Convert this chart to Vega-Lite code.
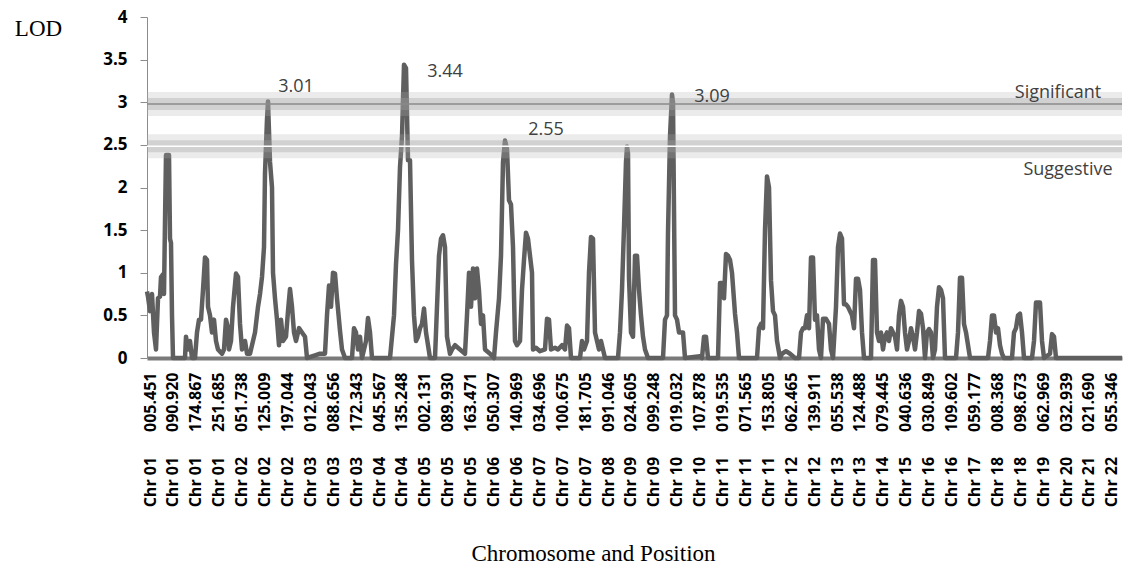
{
  "$schema": "https://vega.github.io/schema/vega-lite/v6.json",
  "width": 975,
  "height": 341,
  "autosize": {"type": "none"},
  "padding": {"left": 147, "top": 17, "right": 7, "bottom": 209},
  "background": "white",
  "config": {"view": {"stroke": null}, "axis": {"labelOverlap": false, "labelSeparation": 0}},
  "datasets": {
    "lod": [
      {"pos":-3,"lod":0.78},{"pos":-2,"lod":0.72},{"pos":0,"lod":0.55},{"pos":2,"lod":0.75},{"pos":4,"lod":0.3},{"pos":6,"lod":0.1},{"pos":8,"lod":0.7},{"pos":10,"lod":0.72},{"pos":11,"lod":0.95},{"pos":13,"lod":0.98},{"pos":14,"lod":0.75},{"pos":15,"lod":1.6},{"pos":16,"lod":2.38},{"pos":19,"lod":2.38},{"pos":20,"lod":1.4},{"pos":21,"lod":1.35},{"pos":22,"lod":0.5},{"pos":23,"lod":0},
      {"pos":35,"lod":0},{"pos":36,"lod":0.25},{"pos":38,"lod":0.1},{"pos":40,"lod":0.2},{"pos":42,"lod":0},{"pos":45,"lod":0},{"pos":47,"lod":0.3},{"pos":49,"lod":0.45},{"pos":51,"lod":0.45},{"pos":53,"lod":0.8},{"pos":55,"lod":1.18},{"pos":57,"lod":1.15},{"pos":58,"lod":0.6},{"pos":60,"lod":0.5},{"pos":62,"lod":0.3},{"pos":64,"lod":0.45},{"pos":66,"lod":0.2},{"pos":68,"lod":0.1},{"pos":72,"lod":0.05},{"pos":74,"lod":0.1},{"pos":76,"lod":0.45},{"pos":78,"lod":0.35},{"pos":79,"lod":0.1},{"pos":81,"lod":0.2},{"pos":83,"lod":0.6},{"pos":86,"lod":0.99},{"pos":88,"lod":0.95},{"pos":90,"lod":0.4},{"pos":92,"lod":0.1},{"pos":95,"lod":0.2},{"pos":97,"lod":0.05},{"pos":100,"lod":0.05},
      {"pos":105,"lod":0.3},{"pos":108,"lod":0.6},{"pos":110,"lod":0.75},{"pos":112,"lod":0.95},{"pos":114,"lod":1.3},{"pos":115,"lod":2.17},{"pos":117,"lod":2.8},{"pos":118,"lod":3.01},{"pos":120,"lod":2.3},{"pos":122,"lod":2.0},{"pos":123,"lod":1.0},{"pos":125,"lod":0.7},{"pos":127,"lod":0.45},{"pos":129,"lod":0.15},{"pos":131,"lod":0.45},{"pos":133,"lod":0.2},{"pos":136,"lod":0.25},{"pos":138,"lod":0.55},{"pos":140,"lod":0.81},{"pos":142,"lod":0.6},{"pos":144,"lod":0.3},{"pos":146,"lod":0.2},{"pos":149,"lod":0.35},{"pos":152,"lod":0.3},{"pos":155,"lod":0.25},{"pos":157,"lod":0},
      {"pos":165,"lod":0.03},{"pos":170,"lod":0.05},{"pos":175,"lod":0.05},{"pos":177,"lod":0.5},{"pos":179,"lod":0.85},{"pos":181,"lod":0.6},{"pos":183,"lod":1.0},{"pos":185,"lod":0.99},{"pos":187,"lod":0.7},{"pos":190,"lod":0.32},{"pos":192,"lod":0.1},{"pos":195,"lod":0},{"pos":202,"lod":0},{"pos":204,"lod":0.35},{"pos":206,"lod":0.3},{"pos":208,"lod":0.1},{"pos":210,"lod":0.25},{"pos":212,"lod":0},{"pos":216,"lod":0.2},{"pos":218,"lod":0.47},{"pos":220,"lod":0.3},{"pos":222,"lod":0},
      {"pos":240,"lod":0},{"pos":242,"lod":0.25},{"pos":244,"lod":0.5},{"pos":246,"lod":1.1},{"pos":248,"lod":1.5},{"pos":250,"lod":2.24},{"pos":252,"lod":2.6},{"pos":254,"lod":3.44},{"pos":256,"lod":3.4},{"pos":258,"lod":2.32},{"pos":260,"lod":2.32},{"pos":262,"lod":1.14},{"pos":264,"lod":0.5},{"pos":266,"lod":0.2},{"pos":268,"lod":0.25},{"pos":270,"lod":0.35},{"pos":272,"lod":0.4},{"pos":274,"lod":0.58},{"pos":276,"lod":0.3},{"pos":278,"lod":0.15},{"pos":280,"lod":0},
      {"pos":285,"lod":0},{"pos":287,"lod":0.6},{"pos":289,"lod":1.2},{"pos":291,"lod":1.4},{"pos":293,"lod":1.44},{"pos":295,"lod":1.3},{"pos":297,"lod":0.25},{"pos":300,"lod":0.05},{"pos":302,"lod":0.1},{"pos":305,"lod":0.15},{"pos":310,"lod":0.1},{"pos":315,"lod":0.05},{"pos":317,"lod":0.5},{"pos":319,"lod":1.0},{"pos":321,"lod":0.6},{"pos":323,"lod":1.05},{"pos":325,"lod":0.7},{"pos":327,"lod":1.05},{"pos":329,"lod":0.79},{"pos":331,"lod":0.4},{"pos":333,"lod":0.5},{"pos":335,"lod":0.1},{"pos":340,"lod":0.05},{"pos":344,"lod":0},
      {"pos":346,"lod":0.3},{"pos":349,"lod":0.7},{"pos":351,"lod":1.2},{"pos":353,"lod":2.3},{"pos":355,"lod":2.55},{"pos":357,"lod":2.45},{"pos":359,"lod":1.85},{"pos":361,"lod":1.8},{"pos":363,"lod":1.3},{"pos":365,"lod":0.2},{"pos":367,"lod":0.15},{"pos":370,"lod":0.2},{"pos":372,"lod":0.8},{"pos":374,"lod":1.15},{"pos":376,"lod":1.47},{"pos":378,"lod":1.4},{"pos":380,"lod":1.2},{"pos":382,"lod":1.0},{"pos":383,"lod":0.1},{"pos":386,"lod":0.12},{"pos":390,"lod":0.08},{"pos":395,"lod":0.1},{"pos":397,"lod":0.46},{"pos":399,"lod":0.45},{"pos":401,"lod":0.1},{"pos":405,"lod":0.12},{"pos":408,"lod":0.1},{"pos":412,"lod":0.15},{"pos":415,"lod":0.1},{"pos":417,"lod":0.38},{"pos":419,"lod":0.35},{"pos":421,"lod":0},
      {"pos":430,"lod":0},{"pos":432,"lod":0.2},{"pos":434,"lod":0.1},{"pos":437,"lod":0.2},{"pos":439,"lod":1.0},{"pos":441,"lod":1.42},{"pos":443,"lod":1.4},{"pos":445,"lod":0.3},{"pos":447,"lod":0.2},{"pos":449,"lod":0.1},{"pos":451,"lod":0.2},{"pos":453,"lod":0.1},{"pos":455,"lod":0},
      {"pos":468,"lod":0},{"pos":470,"lod":0.3},{"pos":472,"lod":0.8},{"pos":474,"lod":1.53},{"pos":476,"lod":2.3},{"pos":477,"lod":2.48},{"pos":478,"lod":2.4},{"pos":479,"lod":0.94},{"pos":481,"lod":0.3},{"pos":483,"lod":0.25},{"pos":485,"lod":1.2},{"pos":487,"lod":1.2},{"pos":489,"lod":0.8},{"pos":491,"lod":0.5},{"pos":493,"lod":0.25},{"pos":495,"lod":0.1},{"pos":498,"lod":0},
      {"pos":513,"lod":0},{"pos":515,"lod":0.45},{"pos":517,"lod":0.5},{"pos":518,"lod":1.47},{"pos":520,"lod":2.6},{"pos":522,"lod":3.09},{"pos":523,"lod":3.0},{"pos":525,"lod":0.5},{"pos":527,"lod":0.45},{"pos":529,"lod":0.3},{"pos":531,"lod":0.3},{"pos":533,"lod":0.3},{"pos":535,"lod":0},{"pos":550,"lod":0.02},{"pos":552,"lod":0},{"pos":554,"lod":0.25},{"pos":556,"lod":0.25},{"pos":558,"lod":0},
      {"pos":568,"lod":0},{"pos":570,"lod":0.88},{"pos":572,"lod":0.88},{"pos":574,"lod":0.7},{"pos":576,"lod":1.22},{"pos":578,"lod":1.2},{"pos":580,"lod":1.15},{"pos":582,"lod":1.0},{"pos":585,"lod":0.52},{"pos":587,"lod":0.3},{"pos":589,"lod":0},
      {"pos":607,"lod":0},{"pos":609,"lod":0.35},{"pos":611,"lod":0.4},{"pos":613,"lod":0.35},{"pos":615,"lod":1.5},{"pos":617,"lod":2.13},{"pos":619,"lod":2.0},{"pos":621,"lod":0.91},{"pos":623,"lod":0.55},{"pos":625,"lod":0.5},{"pos":627,"lod":0.2},{"pos":630,"lod":0},{"pos":632,"lod":0.05},{"pos":636,"lod":0.08},{"pos":640,"lod":0.05},{"pos":645,"lod":0},
      {"pos":649,"lod":0},{"pos":651,"lod":0.3},{"pos":653,"lod":0.35},{"pos":655,"lod":0.35},{"pos":657,"lod":0.5},{"pos":659,"lod":0.35},{"pos":661,"lod":1.18},{"pos":663,"lod":1.18},{"pos":665,"lod":0.45},{"pos":667,"lod":0.5},{"pos":669,"lod":0.1},{"pos":671,"lod":0},{"pos":673,"lod":0.46},{"pos":676,"lod":0.46},{"pos":679,"lod":0.4},{"pos":681,"lod":0.1},{"pos":683,"lod":0},
      {"pos":686,"lod":0.6},{"pos":688,"lod":1.3},{"pos":690,"lod":1.46},{"pos":692,"lod":1.4},{"pos":694,"lod":0.63},{"pos":696,"lod":0.63},{"pos":698,"lod":0.6},{"pos":700,"lod":0.55},{"pos":702,"lod":0.5},{"pos":704,"lod":0.35},{"pos":706,"lod":0.93},{"pos":708,"lod":0.93},{"pos":710,"lod":0.8},{"pos":712,"lod":0.3},{"pos":714,"lod":0},
      {"pos":721,"lod":0},{"pos":723,"lod":1.15},{"pos":725,"lod":1.15},{"pos":727,"lod":0.3},{"pos":729,"lod":0.2},{"pos":731,"lod":0.3},{"pos":733,"lod":0.1},{"pos":735,"lod":0.25},{"pos":737,"lod":0.3},{"pos":739,"lod":0.2},{"pos":741,"lod":0.35},{"pos":743,"lod":0.3},{"pos":745,"lod":0.25},{"pos":747,"lod":0.1},{"pos":749,"lod":0.5},{"pos":751,"lod":0.67},{"pos":753,"lod":0.6},{"pos":755,"lod":0.3},{"pos":757,"lod":0.1},{"pos":759,"lod":0.2},{"pos":761,"lod":0.35},{"pos":763,"lod":0.25},{"pos":765,"lod":0.1},{"pos":767,"lod":0.3},{"pos":769,"lod":0.55},{"pos":771,"lod":0.52},{"pos":773,"lod":0.35},{"pos":775,"lod":0},
      {"pos":777,"lod":0.3},{"pos":779,"lod":0.34},{"pos":781,"lod":0.3},{"pos":783,"lod":0},{"pos":785,"lod":0.1},{"pos":787,"lod":0.6},{"pos":789,"lod":0.83},{"pos":791,"lod":0.8},{"pos":793,"lod":0.7},{"pos":795,"lod":0},
      {"pos":806,"lod":0},{"pos":808,"lod":0.3},{"pos":810,"lod":0.94},{"pos":812,"lod":0.94},{"pos":814,"lod":0.4},{"pos":816,"lod":0.3},{"pos":818,"lod":0.15},{"pos":820,"lod":0},
      {"pos":838,"lod":0},{"pos":840,"lod":0.2},{"pos":842,"lod":0.5},{"pos":844,"lod":0.5},{"pos":846,"lod":0.3},{"pos":848,"lod":0.35},{"pos":850,"lod":0.15},{"pos":852,"lod":0.05},{"pos":854,"lod":0},
      {"pos":862,"lod":0},{"pos":864,"lod":0.3},{"pos":866,"lod":0.35},{"pos":868,"lod":0.5},{"pos":870,"lod":0.52},{"pos":872,"lod":0.3},{"pos":874,"lod":0},
      {"pos":882,"lod":0},{"pos":884,"lod":0.2},{"pos":886,"lod":0.65},{"pos":890,"lod":0.65},{"pos":892,"lod":0.2},{"pos":894,"lod":0},{"pos":900,"lod":0.05},{"pos":902,"lod":0.28},{"pos":904,"lod":0.25},{"pos":906,"lod":0},{"pos":972,"lod":0}
    ],
    "thr": [
      {"name": "Significant", "lod": 2.98},
      {"name": "Suggestive", "lod": 2.485}
    ],
    "ann": [
      {"pos": 146, "lod": 3.18, "label": "3.01"},
      {"pos": 295, "lod": 3.36, "label": "3.44"},
      {"pos": 396, "lod": 2.67, "label": "2.55"},
      {"pos": 562, "lod": 3.06, "label": "3.09"},
      {"pos": 908, "lod": 3.11, "label": "Significant"},
      {"pos": 918, "lod": 2.2, "label": "Suggestive"}
    ]
  },
  "layer": [
    {
      "data": {"name": "lod"},
      "mark": {"type": "line", "color": "#5f5f5f", "strokeWidth": 4.5, "strokeJoin": "round"},
      "encoding": {
        "x": {
          "field": "pos", "type": "quantitative",
          "scale": {"domain": [-3, 972], "nice": false, "zero": false},
          "axis": {
            "values": [0,22.9,45.8,68.7,91.6,114.5,137.4,160.3,183.2,206.1,229,251.9,274.8,297.7,320.6,343.5,366.4,389.3,412.2,435.1,458,480.9,503.8,526.7,549.6,572.5,595.4,618.3,641.2,664.1,687,709.9,732.8,755.7,778.6,801.5,824.4,847.3,870.2,893.1,916,938.9,961.8],
            "tickCount": 100,
            "labelExpr": "replace(['Chr 01|005.451','Chr 01|090.920','Chr 01|174.867','Chr 01|251.685','Chr 02|051.738','Chr 02|125.009','Chr 02|197.044','Chr 03|012.043','Chr 03|088.656','Chr 03|172.343','Chr 04|045.567','Chr 04|135.248','Chr 05|002.131','Chr 05|089.930','Chr 05|163.471','Chr 06|050.307','Chr 06|140.969','Chr 07|034.696','Chr 07|100.675','Chr 07|181.705','Chr 08|091.046','Chr 09|024.605','Chr 09|099.248','Chr 10|019.032','Chr 10|107.878','Chr 11|019.535','Chr 11|071.565','Chr 11|153.805','Chr 12|062.465','Chr 12|139.911','Chr 13|055.538','Chr 13|124.488','Chr 14|079.445','Chr 15|040.636','Chr 16|030.849','Chr 16|109.602','Chr 17|059.177','Chr 18|008.368','Chr 18|098.673','Chr 19|062.969','Chr 20|032.939','Chr 21|021.690','Chr 22|055.346'][round(datum.value/22.9)], '|', '\u00a0\u00a0\u00a0\u00a0\u00a0\u00a0')",
            "labelAngle": 270,
            "labelPadding": 14,
            "labelFlush": false,
            "labelOverlap": false,
            "labelSeparation": 0,
            "labelBound": false,
            "ticks": false,
            "grid": false,
            "domainColor": "#7a7a7a",
            "domainWidth": 4,
            "labelFont": "Open Sans",
            "labelFontWeight": "bold",
            "labelFontSize": 16,
            "labelColor": "#000000",
            "title": "Chromosome and Position",
            "titleFont": "Liberation Serif",
            "titleFontSize": 23,
            "titleFontWeight": "normal",
            "titleColor": "#000000",
            "titleX": 446,
            "titleY": 202,
            "titleAlign": "center",
            "titleBaseline": "alphabetic"
          }
        },
        "y": {
          "field": "lod", "type": "quantitative",
          "scale": {"domain": [0, 4], "nice": false},
          "axis": {
            "values": [0,0.5,1,1.5,2,2.5,3,3.5,4],
            "tickCount": 20,
            "format": "~g",
            "grid": false,
            "domainColor": "#8c8c8c",
            "tickColor": "#8c8c8c",
            "tickSize": 7,
            "labelPadding": 13,
            "labelFont": "Open Sans",
            "labelFontWeight": "bold",
            "labelFontSize": 17,
            "labelColor": "#000000",
            "title": "LOD",
            "titleAngle": 0,
            "titleFont": "Liberation Serif",
            "titleFontSize": 23,
            "titleFontWeight": "normal",
            "titleColor": "#000000",
            "titleX": -109,
            "titleY": 11,
            "titleAlign": "center",
            "titleBaseline": "middle"
          }
        }
      }
    },
    {
      "data": {"name": "thr"},
      "mark": {"type": "rule", "color": "#b0b0b0", "strokeWidth": 24, "opacity": 0.25, "strokeCap": "butt"},
      "encoding": {"y": {"field": "lod", "type": "quantitative"}}
    },
    {
      "data": {"name": "thr"},
      "mark": {"type": "rule", "color": "#a0a0a0", "strokeWidth": 12, "opacity": 0.35, "strokeCap": "butt"},
      "encoding": {"y": {"field": "lod", "type": "quantitative"}}
    },
    {
      "data": {"name": "thr"},
      "mark": {"type": "rule", "strokeWidth": 1.5, "strokeCap": "butt"},
      "encoding": {
        "y": {"field": "lod", "type": "quantitative"},
        "stroke": {"condition": {"test": "datum.name === 'Significant'", "value": "#8a8a8a"}, "value": "#ffffff"}
      }
    },
    {
      "data": {"name": "ann"},
      "mark": {"type": "text", "font": "Open Sans", "fontSize": 18, "color": "#404040", "align": "center", "baseline": "middle"},
      "encoding": {
        "x": {"field": "pos", "type": "quantitative"},
        "y": {"field": "lod", "type": "quantitative"},
        "text": {"field": "label", "type": "nominal"}
      }
    }
  ]
}
